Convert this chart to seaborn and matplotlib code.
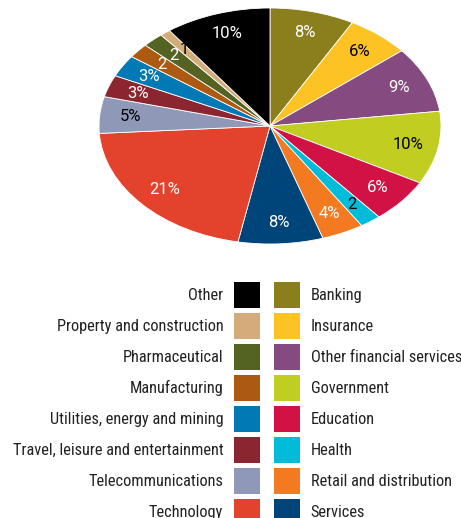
import matplotlib
matplotlib.use("Agg")
import matplotlib.pyplot as plt
import seaborn as sns

# sectors, clockwise from 12 o'clock
sectors = ["Banking", "Insurance", "Other financial services", "Government",
           "Education", "Health", "Retail and distribution", "Services",
           "Technology", "Telecommunications", "Travel, leisure and entertainment",
           "Utilities, energy and mining", "Manufacturing", "Pharmaceutical",
           "Property and construction", "Other"]
shares = [8, 6, 9, 10, 6, 2, 4, 8, 21, 5, 3, 3, 2, 2, 1, 10]
slice_labels = ["8%", "6%", "9%", "10%", "6%", "2", "4%", "8%",
                "21%", "5%", "3%", "3%", "2", "2", "1", "10%"]
sector_colors = ["#8a7f1c", "#fdc324", "#854a7f", "#c2cd22", "#d21245",
                 "#00bcd8", "#f47a22", "#00457a", "#e3432c", "#8f98b7",
                 "#8b2630", "#0079b5", "#ac5a12", "#556322", "#d4ac7a", "#000000"]
label_colors = ["white", "black", "white", "black", "white", "black", "white", "white",
                "white", "black", "white", "white", "white", "white", "black", "white"]

sns.set_theme(style="white")
plt.rcParams['font.family'] = ['Roboto', 'DejaVu Sans']
palette = sns.color_palette(sector_colors)

W, H = 461, 518
fig = plt.figure(figsize=(W / 100, H / 100), dpi=100)
ax = fig.add_axes([99 / W, 1 - 244 / H, 342 / W, 236 / H])

wedges, texts = ax.pie(shares, colors=palette, startangle=90, counterclock=False,
                       labels=slice_labels, labeldistance=0.82,
                       wedgeprops=dict(linewidth=0.6, edgecolor="white"),
                       textprops=dict(fontsize=12, ha="center", va="center"))
for t, c in zip(texts, label_colors):
    t.set_color(c)
ax.set_aspect("auto")
ax.set_xlim(-1, 1)
ax.set_ylim(-1, 1)
ax.axis("off")

legend_font = ['Roboto Condensed', 'Liberation Sans Narrow', 'DejaVu Sans']
fs = 11.8
common = dict(frameon=False, handlelength=1.585, handleheight=2.06,
              labelspacing=0.305, handletextpad=0.65, borderpad=0, borderaxespad=0,
              prop=dict(family=legend_font, size=fs))
left_idx = list(range(15, 7, -1))
right_idx = list(range(0, 8))
leg1 = fig.legend([wedges[i] for i in left_idx], [sectors[i] for i in left_idx],
                  loc="upper right", bbox_to_anchor=(260 / W, 1 - 282 / H),
                  markerfirst=False, **common)
leg2 = fig.legend([wedges[i] for i in right_idx], [sectors[i] for i in right_idx],
                  loc="upper left", bbox_to_anchor=(274 / W, 1 - 282 / H),
                  **common)
for leg in (leg1, leg2):
    for h in leg.legend_handles:
        h.set_edgecolor("none")
    for t in leg.get_texts():
        t.set_color("#222222")

fig.savefig("out.png", dpi=100)
